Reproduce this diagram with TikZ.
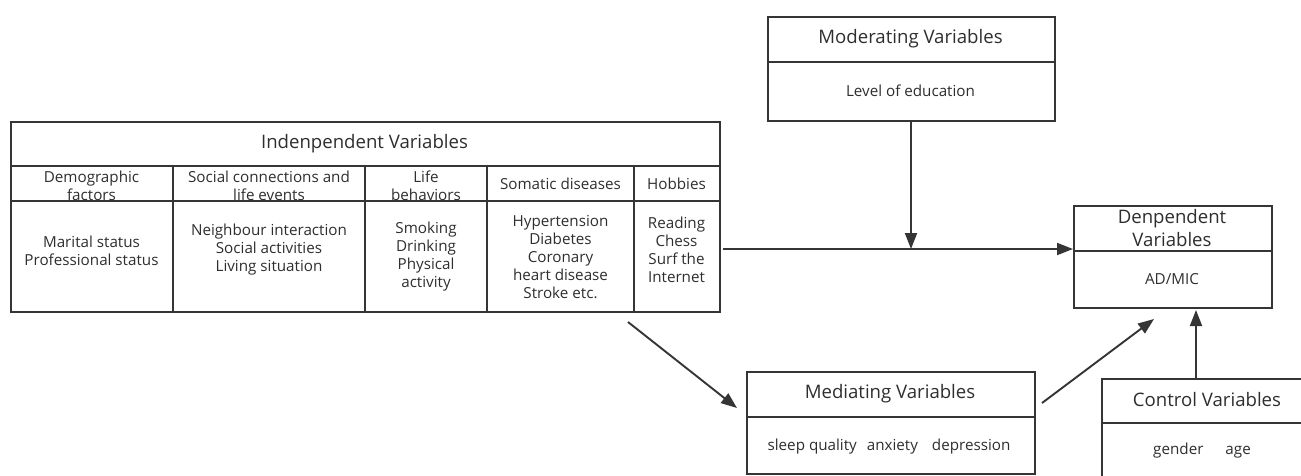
\documentclass[tikz,border=0pt]{standalone}
\usepackage{fontspec}
\setmainfont{Open Sans}
\usetikzlibrary{arrows.meta}
\definecolor{ln}{HTML}{353535}
\definecolor{tx}{HTML}{2E2E2E}
\begin{document}
\begin{tikzpicture}[x=1pt,y=-1pt,
  box/.style={draw=ln, line width=2pt, inner sep=0pt, anchor=north west},
  rule/.style={draw=ln, line width=1.8pt},
  ttl/.style={text=tx, font=\fontsize{18.6}{23}\selectfont, align=center, inner sep=0pt},
  txt/.style={text=tx, font=\fontsize{15.2}{18}\selectfont, align=center, inner sep=0pt},
  arr/.style={draw=ln, line width=1.9pt, -{Triangle[length=16pt,width=12pt]}}]
\useasboundingbox (0,0) rectangle (1301,475);

% ---------- Independent variables table ----------
\node[ttl] (indt) at (364.5,143.5) {Indenpendent Variables};
\node[txt] (h1) at (91.5,186) {Demographic\\factors};
\node[txt] (h2) at (269,186) {Social connections and\\life events};
\node[txt] (h3) at (426,186) {Life\\behaviors};
\node[txt] (h4) at (560.5,183.5) {Somatic diseases};
\node[txt] (h5) at (676.5,183.5) {Hobbies};
\fill[white] (10,201) rectangle (719,206);
\node[txt] (b1) at (91.5,251) {Marital status\\Professional status};
\node[txt] (b2) at (269,250) {Neighbour interaction\\Social activities\\Living situation};
\node[txt] (b3) at (426,257) {Smoking\\Drinking\\Physical\\activity};
\node[txt] (b4) at (560.5,257) {Hypertension\\Diabetes\\Coronary\\heart disease\\Stroke etc.};
\node[txt] (b5) at (676.5,250) {Reading\\Chess\\Surf the\\Internet};
\node[box, minimum width=709pt, minimum height=190pt] (ind) at (10,121) {};
\draw[rule] (10,166) -- (719,166);
\draw[rule] (10,201) -- (719,201);
\draw[rule] (173,166) -- (173,311);
\draw[rule] (365,166) -- (365,311);
\draw[rule] (487,166) -- (487,311);
\draw[rule] (634,166) -- (634,311);

% ---------- Moderating ----------
\node[box, minimum width=287pt, minimum height=104pt] (mod) at (767,16) {};
\draw[rule] (767,62) -- (1054,62);
\node[ttl] (modt) at (910.5,39) {Moderating Variables};
\node[txt] (modb) at (910.5,91) {Level of education};

% ---------- Dependent ----------
\node[box, minimum width=198pt, minimum height=102pt] (dep) at (1073,205) {};
\draw[rule] (1073,251) -- (1271,251);
\node[ttl] (dept) at (1172,228.5) {Denpendent\\Variables};
\node[txt] (depb) at (1172,279) {AD/MIC};

% ---------- Mediating ----------
\node[box, minimum width=288pt, minimum height=102pt] (med) at (746,371) {};
\draw[rule] (746,417) -- (1034,417);
\node[ttl] (medt) at (890,394) {Mediating Variables};
\node[txt] (medb) at (889,447) {sleep quality\hspace{10pt}anxiety\hspace{14pt}depression};

% ---------- Control ----------
\node[box, minimum width=220pt, minimum height=130pt] (ctrl) at (1101,378) {};
\draw[rule] (1101,423) -- (1321,423);
\node[ttl] (ctrlt) at (1207,400) {Control Variables};
\node[txt] (ctrlb) at (1202,451) {gender\hspace{22pt}age};

% ---------- Connectors ----------
\coordinate (j) at (911,249);
\coordinate (hs) at (723,249);
\coordinate (a1) at (628,322);
\coordinate (a2) at (737,408);
\coordinate (m1) at (1042,403);
\coordinate (m2) at (1154,319);
\coordinate (c1) at (1196,310);
\draw[arr] (hs) -- (dep.west |- hs);
\draw[arr] (mod.south -| j) -- (j);
\draw[arr] (a1) -- (a2);
\draw[arr] (m1) -- (m2);
\draw[arr] (c1 |- ctrl.north) -- (c1);
\end{tikzpicture}
\end{document}
